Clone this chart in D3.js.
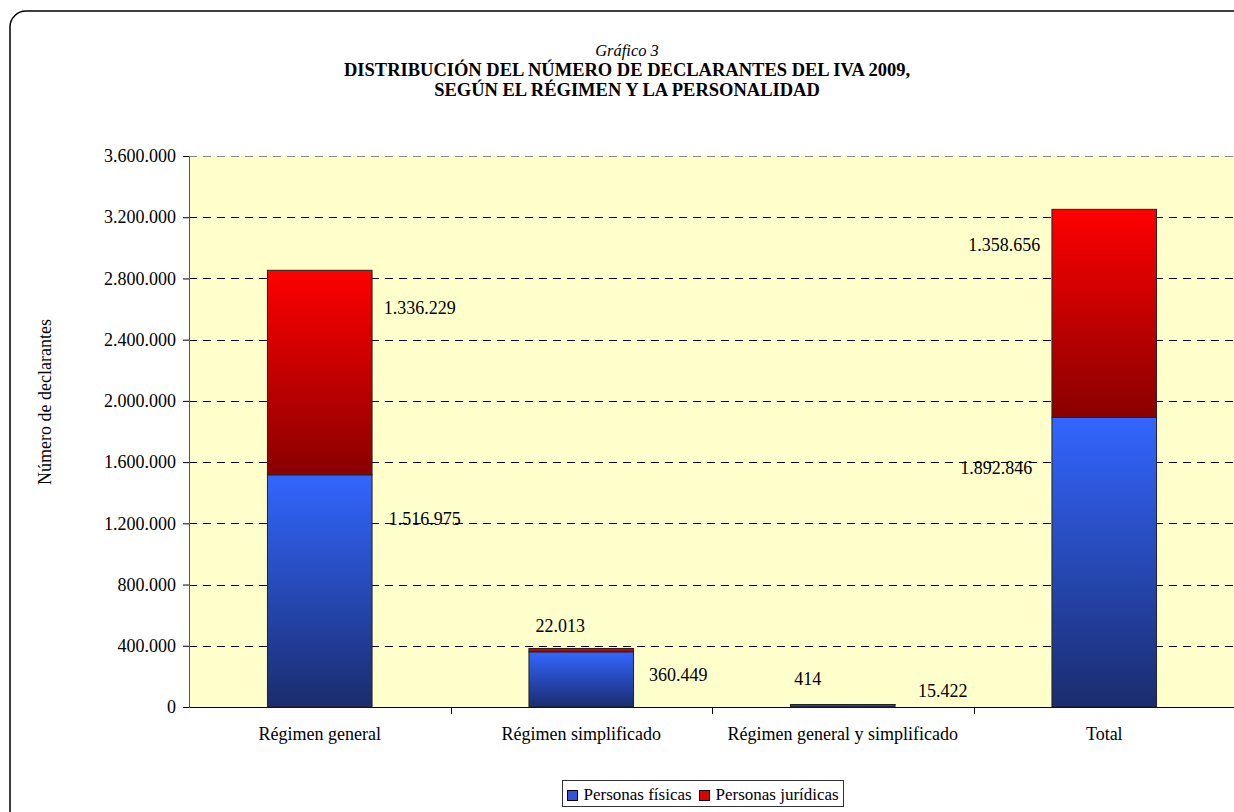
<!DOCTYPE html>
<html><head><meta charset="utf-8">
<script src="https://cdn.jsdelivr.net/npm/d3@7"></script>
<style>body{margin:0;background:#fff;}svg{display:block;font-family:"Liberation Serif","Times New Roman",serif;}</style>
</head><body>
<svg id="c" width="1234" height="812"></svg>
<script>
const categories = ["Régimen general","Régimen simplificado","Régimen general y simplificado","Total"];
const fisicas = [1516975, 360449, 15422, 1892846];
const juridicas = [1336229, 22013, 414, 1358656];
const yTicks = [0,400000,800000,1200000,1600000,2000000,2400000,2800000,3200000,3600000];
const seriesNames = ["Personas físicas","Personas jurídicas"];
// label anchor placement (horizontal px offset from bar centre, vertical position in data units)
const fisLabelDx = [105, 97, 100, -108], fisLabelAt = [1228000, 209000, 105000, 1561000];
const jurLabelDx = [100, -21, -35, -100], jurLabelAt = [2610000, 533000, 186000, 3018000];

const svg = d3.select("#c");
const fmt = v => d3.format(",")(v).replace(/,/g, ".");
const M = {l:189, r:1235, t:156, b:707};
const x = d3.scaleBand().domain(categories).range([M.l, M.r]).paddingInner(0).paddingOuter(0);
const y = d3.scaleLinear().domain([0,3600000]).range([M.b, M.t]);
const bw = x.bandwidth()*0.4;

// outer frame
svg.append("rect").attr("x",10).attr("y",11).attr("width",1260).attr("height",840).attr("rx",16)
  .attr("fill","#fff").attr("stroke","#000").attr("stroke-width",1.5);

const defs = svg.append("defs");
const gB = defs.append("linearGradient").attr("id","gb").attr("x1",0).attr("y1",0).attr("x2",0).attr("y2",1);
gB.append("stop").attr("offset","0%").attr("stop-color","#3366ff");
gB.append("stop").attr("offset","100%").attr("stop-color","#1b2c6e");
const gR = defs.append("linearGradient").attr("id","gr").attr("x1",0).attr("y1",0).attr("x2",0).attr("y2",1);
gR.append("stop").attr("offset","0%").attr("stop-color","#ff0000");
gR.append("stop").attr("offset","100%").attr("stop-color","#8a0000");

// title
const t = svg.append("g").attr("text-anchor","middle").attr("fill","#000");
t.append("text").attr("x",627).attr("y",56).attr("font-size",16.5).attr("font-style","italic").text("Gráfico 3");
t.append("text").attr("x",627).attr("y",76).attr("font-size",18.5).attr("font-weight","bold").text("DISTRIBUCIÓN DEL NÚMERO DE DECLARANTES DEL IVA 2009,");
t.append("text").attr("x",627).attr("y",96).attr("font-size",18.5).attr("font-weight","bold").text("SEGÚN EL RÉGIMEN Y LA PERSONALIDAD");

// plot bg
svg.append("rect").attr("x",M.l).attr("y",M.t).attr("width",M.r-M.l).attr("height",M.b-M.t).attr("fill","#ffffcc");

// gridlines
svg.append("g").selectAll("line").data(yTicks.filter(d=>d>0)).join("line")
  .attr("x1",M.l).attr("x2",M.r).attr("y1",d=>Math.round(y(d))+0.5).attr("y2",d=>Math.round(y(d))+0.5)
  .attr("stroke",d=>d===3600000?"#888":"#000").attr("stroke-dasharray","8,6").attr("stroke-width",1);

// y axis
const ya = svg.append("g").attr("transform",`translate(${M.l},0)`)
  .call(d3.axisLeft(y).tickValues(yTicks).tickFormat(fmt).tickSize(6).tickPadding(7));
ya.select(".domain").attr("stroke","#555");
ya.selectAll("text").attr("font-size",18).attr("font-family","Liberation Serif").attr("fill","#000");

// x axis
const xa = svg.append("g").attr("transform",`translate(0,${M.b})`)
  .call(d3.axisBottom(x).tickSize(0).tickPadding(20));
xa.select(".domain").attr("stroke","#000");
xa.selectAll("text").attr("font-size",18).attr("font-family","Liberation Serif").attr("fill","#000");
svg.append("g").selectAll("line").data(categories.slice(1)).join("line")
  .attr("x1",d=>Math.round(x(d))+0.5).attr("x2",d=>Math.round(x(d))+0.5).attr("y1",M.b).attr("y2",M.b+7).attr("stroke","#000");

// bars
const bars = svg.append("g");
categories.forEach((c,i)=>{
  const cx = x(c)+x.bandwidth()/2;
  bars.append("rect").attr("x",cx-bw/2).attr("width",bw).attr("y",y(fisicas[i])).attr("height",y(0)-y(fisicas[i]))
    .attr("fill","url(#gb)").attr("stroke","#222").attr("stroke-width",1);
  bars.append("rect").attr("x",cx-bw/2).attr("width",bw).attr("y",y(fisicas[i]+juridicas[i])).attr("height",y(fisicas[i])-y(fisicas[i]+juridicas[i]))
    .attr("fill","url(#gr)").attr("stroke","#222").attr("stroke-width",1);
});

// labels
const lab = svg.append("g").attr("font-size",18).attr("fill","#000").attr("text-anchor","middle");
categories.forEach((c,i)=>{
  const cx = x(c)+x.bandwidth()/2;
  lab.append("text").attr("x",cx+fisLabelDx[i]).attr("y",y(fisLabelAt[i])).attr("dy","0.35em").text(fmt(fisicas[i]));
  lab.append("text").attr("x",cx+jurLabelDx[i]).attr("y",y(jurLabelAt[i])).attr("dy","0.35em").text(fmt(juridicas[i]));
});

// y title
svg.append("text").attr("transform","translate(45,402) rotate(-90)").attr("text-anchor","middle")
  .attr("dy","0.35em").attr("font-size",18).text("Número de declarantes");

// legend
const lg = svg.append("g");
lg.append("rect").attr("x",562.5).attr("y",780.5).attr("width",281).attr("height",26).attr("fill","#fff").attr("stroke","#333");
const lx = [567.5, 699.5];
seriesNames.forEach((n,i)=>{
  lg.append("rect").attr("x",lx[i]).attr("y",790.5).attr("width",10).attr("height",10).attr("fill",i?"#e00000":"#2f55d8").attr("stroke","#000");
  lg.append("text").attr("x",lx[i]+16).attr("y",800).attr("font-size",17).text(n);
});
</script>
</body></html>
